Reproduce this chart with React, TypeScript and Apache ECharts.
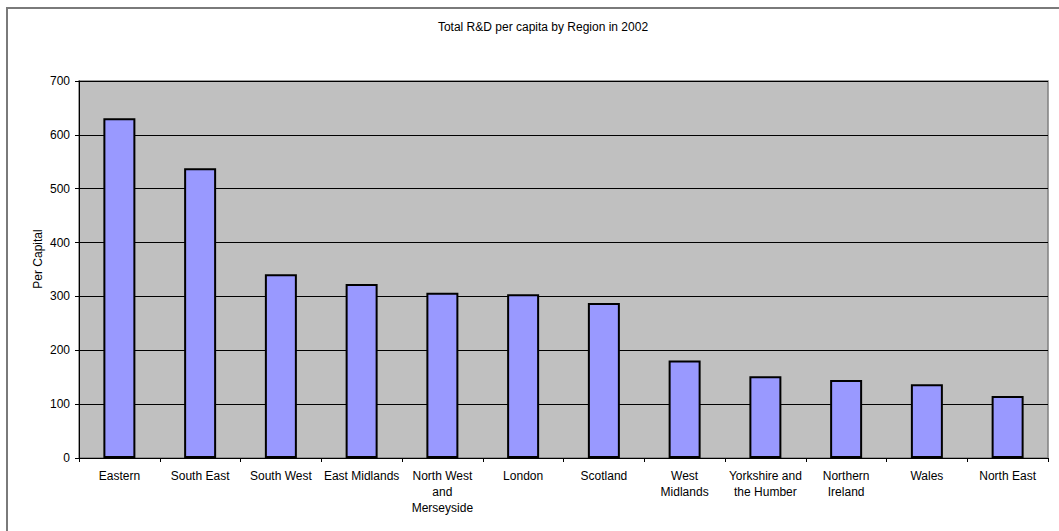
import React, { useEffect, useRef } from "react";
import * as echarts from "echarts";

// Regions and their total R&D spend per head of population, 2002
const regions: string[] = [
  "Eastern",
  "South East",
  "South West",
  "East Midlands",
  "North West\nand\nMerseyside",
  "London",
  "Scotland",
  "West\nMidlands",
  "Yorkshire and\nthe Humber",
  "Northern\nIreland",
  "Wales",
  "North East",
];
const perCapita: number[] = [631, 538, 341, 323, 307, 304, 288, 181, 152, 145, 137, 115];

const chartTitle = "Total R&D per capita by Region in 2002";
const yAxisTitle = "Per Capital";

const FONT = "'Liberation Sans', Arial, sans-serif";

export default function App() {
  const ref = useRef<HTMLDivElement>(null);

  useEffect(() => {
    if (!ref.current) return;
    const chart = echarts.init(ref.current, undefined, { renderer: "svg" });
    chart.setOption({
      animation: false,
      backgroundColor: "#ffffff",
      textStyle: { fontFamily: FONT },
      title: {
        text: chartTitle,
        left: 538,
        top: 16,
        textAlign: "center",
        textStyle: { fontSize: 12, fontWeight: "normal", color: "#000", fontFamily: FONT },
      },
      graphic: [
        {
          type: "rect",
          shape: { x: 7, y: 8, width: 1100, height: 600 },
          style: { fill: "none", stroke: "#7a7a7a", lineWidth: 2 },
          silent: true,
        },
        {
          type: "text",
          x: 38,
          y: 259,
          rotation: Math.PI / 2,
          style: {
            text: yAxisTitle,
            fontSize: 12,
            fontFamily: FONT,
            fill: "#000",
            align: "center",
            verticalAlign: "middle",
          },
        },
      ],
      grid: {
        left: 79,
        top: 81,
        right: 11,
        bottom: 73,
        show: true,
        backgroundColor: "#C0C0C0",
        borderColor: "#808080",
        borderWidth: 1.5,
      },
      xAxis: {
        type: "category",
        data: regions,
        axisLine: { show: true, lineStyle: { color: "#000", width: 1 } },
        axisTick: { show: true, alignWithLabel: false, length: 4, lineStyle: { color: "#000" } },
        axisLabel: {
          interval: 0,
          fontSize: 12,
          color: "#000",
          fontFamily: FONT,
          margin: 10,
          lineHeight: 16,
        },
        splitLine: { show: false },
      },
      yAxis: {
        type: "value",
        min: 0,
        max: 700,
        interval: 100,
        axisLine: { show: true, lineStyle: { color: "#000", width: 1 } },
        axisTick: { show: true, length: 4, lineStyle: { color: "#000" } },
        axisLabel: { fontSize: 12, color: "#000", fontFamily: FONT, margin: 9 },
        splitLine: { show: true, lineStyle: { color: "#000", width: 1 } },
      },
      series: [
        {
          type: "bar",
          data: perCapita,
          barWidth: 32,
          itemStyle: { color: "#9999FF", borderColor: "#000", borderWidth: 2 },
        },
      ],
    });
    return () => chart.dispose();
  }, []);

  return (
    <div
      ref={ref}
      style={{ position: "absolute", left: 0, top: 0, width: 1059, height: 531 }}
    />
  );
}
